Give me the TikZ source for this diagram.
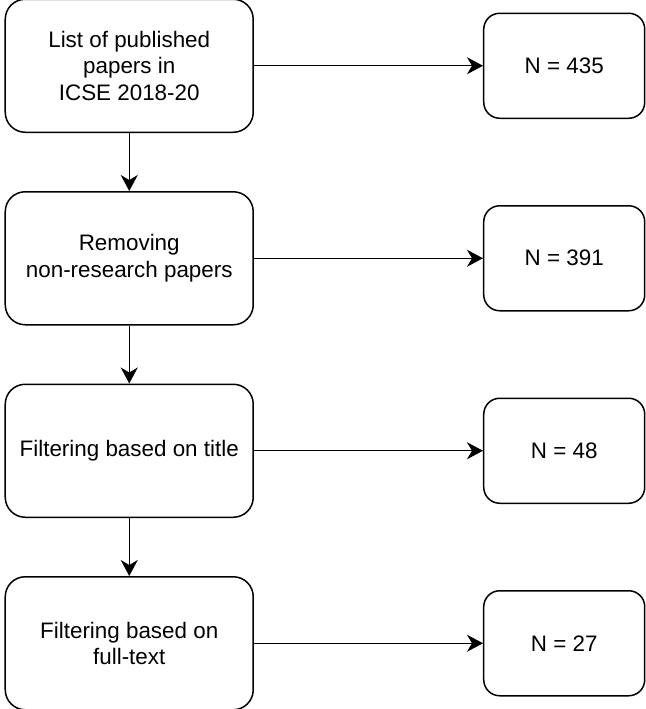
\documentclass[tikz,border=0pt]{standalone}
\usepackage{fontspec}
\setmainfont{Liberation Sans}
\usepackage{tikz}
\usetikzlibrary{positioning, arrows.meta}

\begin{document}
\begin{tikzpicture}[
            every matrix/.style={ampersand replacement=\&,column sep=114.5pt,row sep=29pt,inner sep=0pt},
            stage/.style={draw, line width=.75pt, rounded corners=10pt, minimum width=124pt, minimum height=66.5pt, inner sep=0pt},
            count/.style={draw, line width=.75pt, rounded corners=8pt, minimum width=80.5pt, minimum height=52.5pt, inner sep=0pt},
            to/.style={-{Stealth[length=8pt,width=8.5pt,inset=2.5pt]},line width=.7pt},
            every node/.style={align=center,font=\fontsize{11.2}{13.2}\selectfont}]
        \useasboundingbox (0,0) rectangle (322.5pt,-354.5pt);
        \matrix at (162.5pt,-177.25pt) {%
            \node[stage] (A) {List of published\\papers in\\ICSE 2018-20}; \& \node[count] (E) {N = 435}; \\
            \node[stage] (B) {Removing\\non-research papers}; \& \node[count] (F) {N = 391}; \\
            \node[stage] (C) {Filtering based on title}; \& \node[count] (G) {N = 48}; \\
            \node[stage] (D) {Filtering based on\\full-text}; \& \node[count] (H) {N = 27}; \\
        };

        \draw[to] (A) -- (B);
        \draw[to] (B) -- (C);
        \draw[to] (C) -- (D);
        \draw[to] (A) -- (E);
        \draw[to] (B) -- (F);
        \draw[to] (C) -- (G);
        \draw[to] (D) -- (H);
    \end{tikzpicture}
\end{document}
